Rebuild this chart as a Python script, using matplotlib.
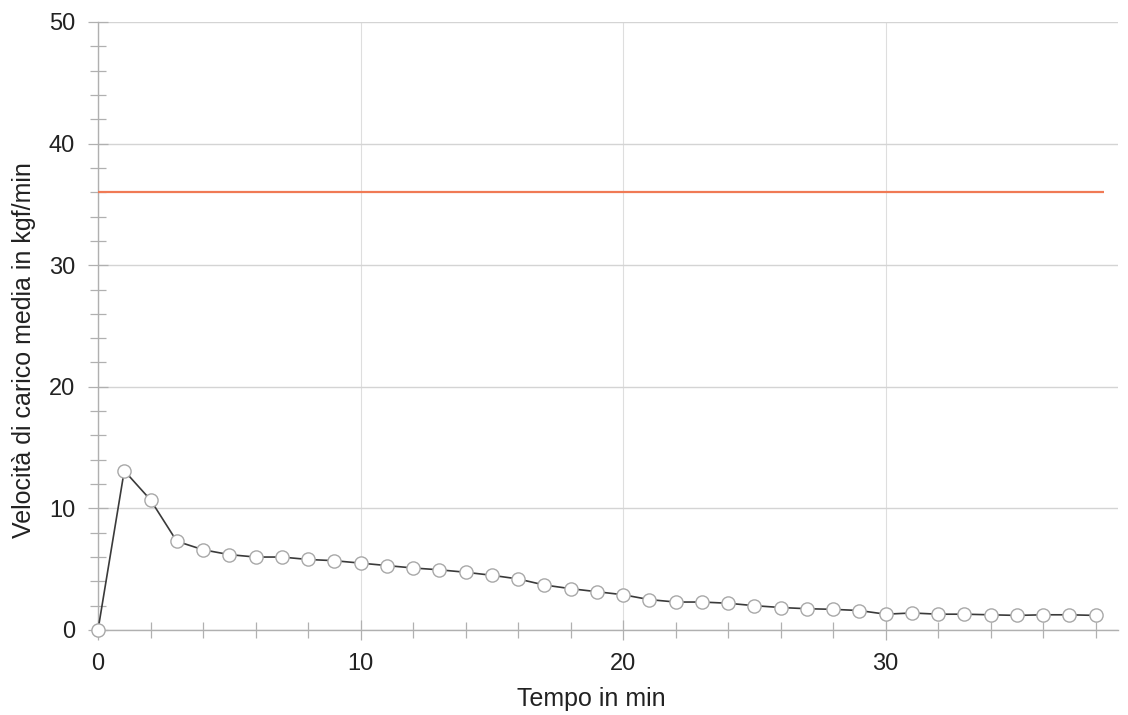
import matplotlib
matplotlib.use("Agg")
import matplotlib.pyplot as plt
from matplotlib.ticker import MultipleLocator

plt.rcParams['font.family'] = ['Liberation Sans', 'DejaVu Sans']

# tempo (min) e velocita di carico media (kgf/min)
tempo = list(range(39))
velocita = [0, 13.1, 10.7, 7.3, 6.6, 6.2, 6.0, 6.0, 5.8, 5.7, 5.5, 5.3, 5.1,
            4.95, 4.75, 4.5, 4.2, 3.7, 3.4, 3.15, 2.9, 2.5, 2.3, 2.3, 2.2,
            2.0, 1.85, 1.75, 1.7, 1.6, 1.3, 1.4, 1.3, 1.3, 1.25, 1.2, 1.25,
            1.25, 1.2]
soglia = 36
soglia_fine = 38.3

fig = plt.figure(figsize=(11.28, 7.15), dpi=100)
ax = fig.add_axes([98 / 1128, 85 / 715, 1020 / 1128, 608 / 715])

xmax = 38.85
ax.set_xlim(0, xmax)
ax.set_ylim(0, 50)

ax.hlines(soglia, 0, soglia_fine, color='#f07a55', lw=1.6, zorder=3)
ax.plot(tempo, velocita, color='#3a3a3a', lw=1.2, marker='o', ms=9.5,
        mfc='white', mec='#a8a8a8', mew=1.0, clip_on=False, zorder=4)

ax.xaxis.set_major_locator(MultipleLocator(10))
ax.xaxis.set_minor_locator(MultipleLocator(2))
ax.yaxis.set_major_locator(MultipleLocator(10))
ax.yaxis.set_minor_locator(MultipleLocator(2))

ax.grid(True, which='major', axis='y', color='#d4d4d4', lw=1.0)
ax.grid(True, which='major', axis='x', color='#dedede', lw=0.8)

for s in ['top', 'right']:
    ax.spines[s].set_visible(False)
for s in ['left', 'bottom']:
    ax.spines[s].set_color('#b0b0b0')
    ax.spines[s].set_linewidth(1.0)

ax.tick_params(which='major', direction='inout', length=14, width=0.9,
               color='#b0b0b0', labelsize=17, labelcolor='#222222', pad=9.5)
ax.tick_params(which='minor', direction='inout', length=11, width=0.9,
               color='#b0b0b0')

ax.set_xlabel('Tempo in min', fontsize=18, color='#222222')
ax.set_ylabel('Velocità di carico media in kgf/min', fontsize=18, color='#222222')
ax.xaxis.set_label_coords(18.8 / xmax, -0.094)
ax.yaxis.set_label_coords(-0.061, 0.46)

fig.savefig('out.png', dpi=100)
